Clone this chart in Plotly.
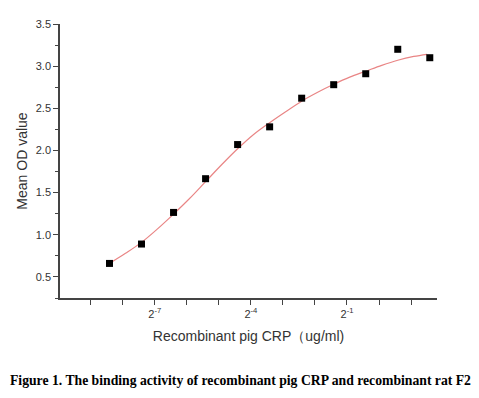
import plotly.graph_objects as go

# log2 of concentration (ug/ml): 3/2^10 ... 3
log2_conc = [-8.415, -7.415, -6.415, -5.415, -4.415, -3.415, -2.415, -1.415, -0.415, 0.585, 1.585]
mean_od = [0.66, 0.89, 1.265, 1.665, 2.07, 2.28, 2.62, 2.78, 2.91, 3.20, 3.10]

# fitted curve
fit_x = [-8.415, -7.915, -7.415, -6.915, -6.415, -5.915, -5.415, -4.915, -4.415, -3.915, -3.415,
         -2.915, -2.415, -1.915, -1.415, -0.915, -0.415, 0.085, 0.585, 1.085, 1.5]
fit_y = [0.66, 0.78, 0.91, 1.07, 1.245, 1.43, 1.63, 1.83, 2.02, 2.19, 2.33,
         2.46, 2.585, 2.69, 2.785, 2.87, 2.94, 3.01, 3.07, 3.115, 3.14]

tick_vals = [-7, -4, -1]
tick_text = ["2<sup>-7</sup>", "2<sup>-4</sup>", "2<sup>-1</sup>"]
y_ticks = [0.5, 1.0, 1.5, 2.0, 2.5, 3.0, 3.5]
y_tick_text = ["0.5", "1.0", "1.5", "2.0", "2.5", "3.0", "3.5"]

fig = go.Figure()
fig.add_trace(go.Scatter(x=fit_x, y=fit_y, mode="lines", line=dict(color="#E98585", width=1.2, shape="spline"),
                         hoverinfo="skip", showlegend=False))
fig.add_trace(go.Scatter(x=log2_conc, y=mean_od, mode="markers",
                         marker=dict(symbol="square", size=7, color="black"), showlegend=False))

fig.update_layout(
    width=479, height=398,
    margin=dict(l=60, r=42, t=24, b=100),
    paper_bgcolor="white", plot_bgcolor="white",
    font=dict(family="Liberation Sans, Arial, sans-serif", color="#333333"),
    xaxis=dict(range=[-9.96, 1.81], tickvals=tick_vals, ticktext=tick_text, showline=True,
               linecolor="#444444", linewidth=1.5, ticks="outside", ticklen=5, tickwidth=1.3,
               tickcolor="#444444", showgrid=False, zeroline=False, tickfont=dict(size=11),
               minor=dict(dtick=1, tick0=-9, ticks="outside", ticklen=5, tickwidth=1.3, tickcolor="#444444",
                          showgrid=False),
               title=dict(text="Recombinant pig CRP（ug/ml)", font=dict(size=14), standoff=12)),
    yaxis=dict(range=[0.25, 3.5], tickvals=y_ticks, ticktext=y_tick_text,
               showline=True, linecolor="#444444", linewidth=1.5, ticks="outside", ticklen=5, tickwidth=1.3,
               tickcolor="#444444", showgrid=False, zeroline=False, tickfont=dict(size=11),
               minor=dict(dtick=0.25, tick0=0.25, ticks="outside", ticklen=3, tickcolor="#444444", showgrid=False),
               title=dict(text="Mean OD value", font=dict(size=14), standoff=5)),
    annotations=[dict(text="<b>Figure 1. The binding activity of recombinant pig CRP and recombinant rat F2</b>",
                      xref="paper", yref="paper", x=0.5, y=0, xanchor="center", yanchor="middle",
                      xshift=-8, yshift=-82, showarrow=False,
                      font=dict(family="Liberation Serif, Times New Roman, serif", size=13.7, color="black"))]
)

fig.write_html("out.html", config={"displayModeBar": False},
               post_script="document.body.style.margin='0px';document.body.style.padding='0px';")
